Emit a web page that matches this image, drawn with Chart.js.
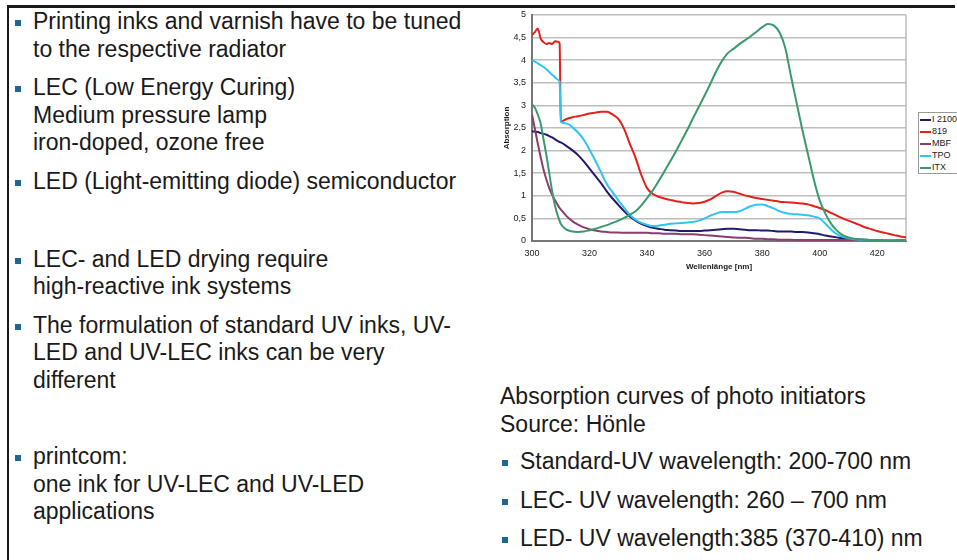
<!DOCTYPE html>
<html>
<head>
<meta charset="utf-8">
<script src="https://cdn.jsdelivr.net/npm/chart.js@4.4.1/dist/chart.umd.min.js"></script>
<style>
html, body { margin: 0; padding: 0; background: #fff; }
body { width: 957px; height: 560px; position: relative; overflow: hidden;
       font-family: "Liberation Sans", Arial, sans-serif; color: #1a1a1a; }
.frameTop { position: absolute; left: 7px; top: 5px; width: 948px; height: 3px; background: #1a1a1a; }
.frameLeft { position: absolute; left: 7px; top: 5px; width: 2px; height: 555px; background: #1a1a1a; }
.para { position: absolute; font-size: 23px; line-height: 27.5px; white-space: nowrap; }
.bullet::before { content: ""; position: absolute; left: -18px; top: 12px; width: 6px; height: 6px; background: #1f6690; }
#chartBox { position: absolute; left: 490px; top: 0; }
#legend { position: absolute; left: 918px; top: 112px; width: 38px; border: 1px solid #9a9a9a;
          font-size: 9px; line-height: 12px; background: #fff; }
#legend div { white-space: nowrap; }
#legend span { display: inline-block; width: 11px; height: 2px; margin: 0 1px 0 1px; vertical-align: middle; }
</style>
</head>
<body>
<div class="frameTop"></div>
<div class="frameLeft"></div>

<div class="para bullet" style="left:33px;top:8px">Printing inks and varnish have to be tuned<br>to the respective radiator</div>
<div class="para bullet" style="left:33px;top:74px">LEC (Low Energy Curing)<br>Medium pressure lamp<br>iron-doped, ozone free</div>
<div class="para bullet" style="left:33px;top:167.5px">LED (Light-emitting diode) semiconductor</div>
<div class="para bullet" style="left:33px;top:245.5px">LEC- and LED drying require<br>high-reactive ink systems</div>
<div class="para bullet" style="left:33px;top:311.5px">The formulation of standard UV inks, UV-<br>LED and UV-LEC inks can be very<br>different</div>
<div class="para bullet" style="left:33px;top:443.2px">printcom:<br>one ink for UV-LEC and UV-LED<br>applications</div>

<div class="para" style="left:500px;top:383.2px">Absorption curves of photo initiators<br>Source: Hönle</div>
<div class="para bullet" style="left:520px;top:448.2px">Standard-UV wavelength: 200-700 nm</div>
<div class="para bullet" style="left:520px;top:486.5px">LEC- UV wavelength: 260 – 700 nm</div>
<div class="para bullet" style="left:520px;top:524.9px">LED- UV wavelength:385 (370-410) nm</div>

<div id="chartBox"><canvas id="absChart" width="467" height="276"></canvas></div>
<div id="legend"></div>

<script>
// wavelength grid in nm
const wavelengths = [300, 301, 302, 303, 304, 305, 306, 307, 308, 309, 309.6, 310,
    312, 314, 316, 318, 320, 322, 324, 326, 328, 330,
    332, 334, 336, 338, 340, 342, 344, 346, 348, 350,
    352, 354, 356, 358, 360, 362, 364, 366, 368, 370,
    372, 374, 376, 378, 380, 382, 384, 386, 388, 390,
    392, 394, 396, 398, 400, 402, 404, 406, 408, 410,
    412, 414, 416, 418, 420, 422, 424, 426, 428, 430];

const i2100 = [2.43, 2.42, 2.41, 2.39, 2.37, 2.35, 2.32, 2.29, 2.25, 2.21, 2.19, 2.18,
    2.10, 2.01, 1.90, 1.76, 1.60, 1.44, 1.28, 1.10, 0.94, 0.80,
    0.66, 0.54, 0.45, 0.38, 0.33, 0.29, 0.27, 0.25, 0.24, 0.23,
    0.22, 0.22, 0.22, 0.22, 0.23, 0.24, 0.25, 0.26, 0.27, 0.27,
    0.26, 0.25, 0.24, 0.24, 0.23, 0.23, 0.22, 0.21, 0.21, 0.21,
    0.20, 0.20, 0.19, 0.17, 0.15, 0.12, 0.10, 0.08, 0.06, 0.05,
    0.04, 0.03, 0.03, 0.02, 0.02, 0.02, 0.02, 0.02, 0.02, 0.02];

const s819 = [4.56, 4.62, 4.70, 4.48, 4.40, 4.36, 4.38, 4.36, 4.42, 4.41, 4.38, 2.64,
    2.70, 2.74, 2.76, 2.79, 2.82, 2.84, 2.86, 2.86, 2.80, 2.70,
    2.48, 2.15, 1.84, 1.46, 1.17, 1.04, 0.98, 0.94, 0.91, 0.88,
    0.86, 0.84, 0.83, 0.84, 0.87, 0.92, 1.00, 1.07, 1.10, 1.09,
    1.05, 1.01, 0.98, 0.95, 0.93, 0.91, 0.89, 0.87, 0.86, 0.85,
    0.84, 0.83, 0.81, 0.77, 0.73, 0.68, 0.62, 0.56, 0.50, 0.45,
    0.40, 0.35, 0.30, 0.26, 0.22, 0.19, 0.16, 0.13, 0.10, 0.08];

const mbf = [2.80, 2.48, 2.16, 1.86, 1.58, 1.36, 1.17, 1.02, 0.90, 0.79, 0.73, 0.70,
    0.55, 0.44, 0.36, 0.30, 0.26, 0.23, 0.21, 0.20, 0.19, 0.19,
    0.18, 0.18, 0.18, 0.18, 0.18, 0.17, 0.17, 0.16, 0.16, 0.16,
    0.15, 0.15, 0.15, 0.14, 0.13, 0.12, 0.11, 0.10, 0.09, 0.08,
    0.07, 0.07, 0.06, 0.05, 0.05, 0.04, 0.04, 0.03, 0.03, 0.03,
    0.02, 0.02, 0.02, 0.02, 0.02, 0.02, 0.02, 0.02, 0.02, 0.02,
    0.01, 0.01, 0.01, 0.01, 0.01, 0.01, 0.01, 0.01, 0.01, 0.01];

const tpo = [4.00, 3.97, 3.93, 3.89, 3.85, 3.80, 3.74, 3.68, 3.62, 3.57, 3.52, 2.64,
    2.60, 2.52, 2.40, 2.24, 2.02, 1.78, 1.52, 1.26, 1.08, 0.90,
    0.74, 0.58, 0.47, 0.40, 0.36, 0.33, 0.34, 0.36, 0.38, 0.39,
    0.40, 0.41, 0.42, 0.45, 0.50, 0.56, 0.61, 0.64, 0.64, 0.64,
    0.66, 0.71, 0.77, 0.80, 0.81, 0.77, 0.72, 0.66, 0.62, 0.60,
    0.59, 0.58, 0.57, 0.54, 0.50, 0.38, 0.25, 0.15, 0.09, 0.06,
    0.04, 0.03, 0.03, 0.02, 0.02, 0.02, 0.02, 0.02, 0.01, 0.01];

const itx = [3.02, 2.95, 2.80, 2.60, 2.25, 1.90, 1.50, 1.10, 0.78, 0.55, 0.45, 0.38,
    0.25, 0.21, 0.20, 0.21, 0.24, 0.27, 0.31, 0.35, 0.40, 0.45,
    0.51, 0.58, 0.66, 0.79, 0.95, 1.12, 1.32, 1.54, 1.76, 1.98,
    2.22, 2.46, 2.72, 2.97, 3.22, 3.48, 3.75, 3.98, 4.15, 4.25,
    4.35, 4.44, 4.53, 4.63, 4.73, 4.80, 4.77, 4.62, 4.28, 3.65,
    3.05, 2.45, 1.90, 1.35, 0.90, 0.60, 0.38, 0.23, 0.13, 0.08,
    0.05, 0.04, 0.03, 0.02, 0.02, 0.02, 0.01, 0.01, 0.01, 0.01];

const seriesNames = ["I 2100", "819", "MBF", "TPO", "ITX"];
const seriesValues = [i2100, s819, mbf, tpo, itx];
const seriesColors = ["#1f1b6b", "#e3201b", "#8b3d6e", "#2ec5f3", "#3b9a6d"];

Chart.defaults.font.family = '"Liberation Sans", Arial, sans-serif';
Chart.defaults.color = "#1a1a1a";

// gray frame line on the right side of the plot
const plotFrame = {
    id: "plotFrame",
    beforeDatasetsDraw(chart) {
        const { ctx, chartArea } = chart;
        ctx.save();
        ctx.strokeStyle = "#bdbdbd";
        ctx.lineWidth = 1.5;
        ctx.beginPath();
        ctx.moveTo(chartArea.right, chartArea.top);
        ctx.lineTo(chartArea.right, chartArea.bottom);
        ctx.stroke();
        ctx.restore();
    }
};

const datasets = seriesNames.map((name, i) => ({
    label: name,
    data: wavelengths.map((w, j) => ({ x: w, y: seriesValues[i][j] })),
    borderColor: seriesColors[i],
    backgroundColor: seriesColors[i],
    borderWidth: 2,
    pointRadius: 0,
    cubicInterpolationMode: "monotone",
    order: seriesNames.length - i
}));

new Chart(document.getElementById("absChart").getContext("2d"), {
    type: "line",
    data: { datasets: datasets },
    options: {
        responsive: false,
        animation: false,
        layout: { padding: { top: 15, right: 51, bottom: 0, left: 0 } },
        plugins: { legend: { display: false }, tooltip: { enabled: false } },
        scales: {
            x: {
                type: "linear",
                min: 300,
                max: 430,
                ticks: { stepSize: 20, includeBounds: false, font: { size: 9 }, padding: 7, color: "#1a1a1a" },
                grid: { display: false, drawTicks: false },
                border: { display: true, color: "#777", width: 2 },
                title: { display: true, text: "Wellenlänge [nm]", font: { size: 8, weight: "bold" }, padding: { top: 4, bottom: 4 } },
                afterFit: function(scale) { scale.height = 35; }
            },
            y: {
                min: 0,
                max: 5,
                ticks: {
                    stepSize: 0.5,
                    font: { size: 9 },
                    padding: 6,
                    color: "#1a1a1a",
                    callback: function(v) { return String(v).replace(".", ","); }
                },
                grid: { color: "#bdbdbd", lineWidth: 1.5, drawTicks: false },
                border: { display: true, color: "#777", width: 2 },
                title: { display: true, text: "Absorption", font: { size: 8, weight: "bold" }, padding: { top: 12, bottom: 0 } },
                afterFit: function(scale) { scale.width = 42; }
            }
        }
    },
    plugins: [plotFrame]
});

const legend = document.getElementById("legend");
legend.innerHTML = seriesNames.map((name, i) => {
    return `<div><span style="background:${seriesColors[i]}"></span>${name}</div>`;
}).join("");
</script>
</body>
</html>
